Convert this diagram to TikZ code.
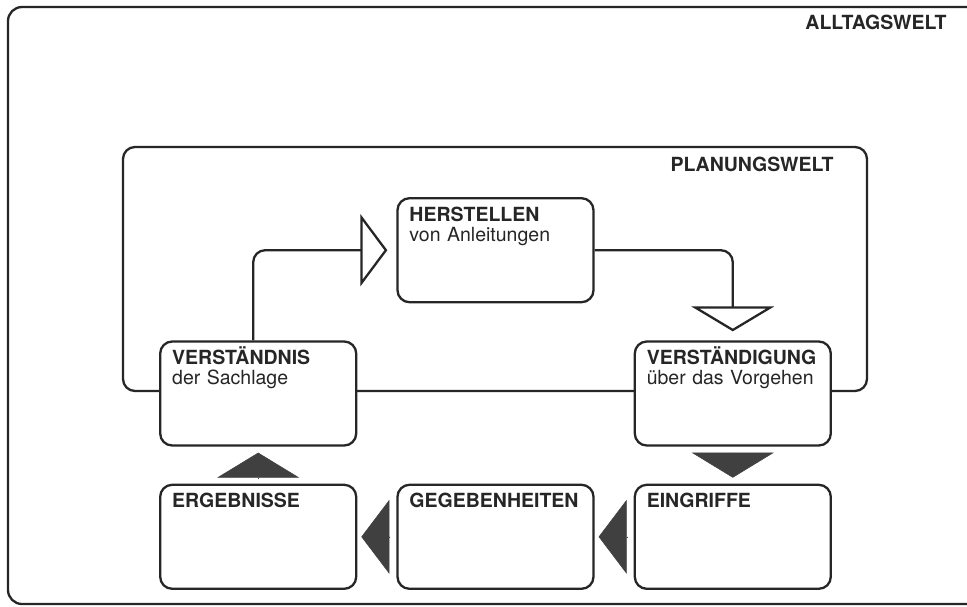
\documentclass[tikz,border=0pt]{standalone}
\usepackage{fontspec}
\setmainfont{TeX Gyre Heros}
\usetikzlibrary{matrix, arrows.meta}

\tikzset{
  linie/.style = {draw=black!85, line width=2.3pt},
  feld/.style = {linie, fill=white, rounded corners=12pt, text width=172pt,
    inner xsep=12pt, inner ysep=8pt, text height=15pt, text depth=73pt,
    align=left, text=black!85, font=\fontsize{19.5}{20}\selectfont},
  welt/.style = {text=black!85, font=\fontsize{19.5}{20}\selectfont\bfseries},
  hohl/.style 2 args = {linie, rounded corners=12pt, shorten >=9pt,
    -{Triangle[open, length=#1, width=#2]}},
  vollv/.style = {draw=black!75, fill=black!75, line width=.5pt,
    shorten <=6pt, shorten >=6pt, -{Triangle[length=25pt, width=82pt]}},
  vollh/.style = {draw=black!75, fill=black!75, line width=.5pt,
    shorten <=6pt, shorten >=4pt, -{Triangle[length=28pt, width=74pt]}}
}

\begin{document}
\begin{tikzpicture}[x=1pt, y=-1pt]
\clip (0,0) rectangle (967,606);
\fill[white] (0,0) rectangle (967,606);

% die beiden Welten
\draw[linie, rounded corners=14pt] (8,7) rectangle (995,604);
\draw[linie, rounded corners=12pt] (123,147) rectangle (867,391);
\node[welt, anchor=base east] (alltag) at (950,29) {ALLTAGSWELT};
\node[welt, anchor=base east] (planung) at (837,171) {PLANUNGSWELT};

\matrix (m) [column sep=39pt, row sep=37pt] at (495.5,393.5) {
& \node[feld] (herst) {\textbf{HERSTELLEN}\\von Anleitungen}; & \\
\node[feld] (verst) {\textbf{VERSTÄNDNIS}\\der Sachlage}; & &
  \node[feld] (vorg) {\textbf{VERSTÄNDIGUNG}\\über das Vorgehen}; \\
\node[feld] (erg) {\textbf{ERGEBNISSE}}; & \node[feld] (geg) {\textbf{GEGEBENHEITEN}}; &
  \node[feld] (ein) {\textbf{EINGRIFFE}}; \\
};

\draw[hohl={27pt}{72pt}] ([xshift=-5pt]verst.north) |- (herst.west);
\draw[hohl={25pt}{83pt}] (herst.east) -| (vorg.north);
\draw[vollv] (vorg.south) -- (ein.north);
\draw[vollh] (ein.west) -- (geg.east);
\draw[vollh] (geg.west) -- (erg.east);
\draw[vollv] (erg.north) -- (verst.south);
\end{tikzpicture}
\end{document}
